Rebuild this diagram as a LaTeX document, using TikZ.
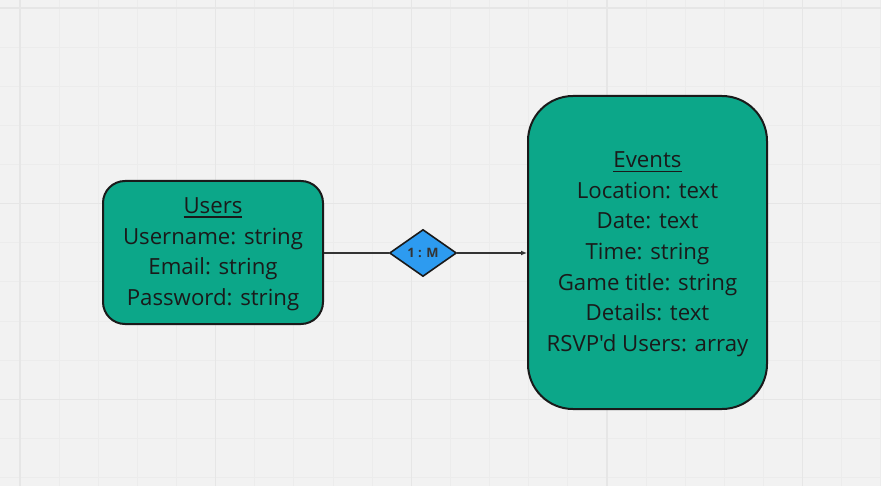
\documentclass[tikz,border=0pt]{standalone}
\usepackage{fontspec}
\setmainfont{Open Sans}[Ligatures=TeXOff]
\usetikzlibrary{shapes.geometric,arrows.meta}
\definecolor{bg}{HTML}{F2F2F2}
\definecolor{gridminor}{HTML}{ECECEC}
\definecolor{gridmajor}{HTML}{E6E6E6}
\definecolor{entfill}{HTML}{0CA789}
\definecolor{relfill}{HTML}{2D9BF0}
\definecolor{ink}{HTML}{1A1A1A}
\definecolor{linecol}{HTML}{333333}
\newcommand\myul[1]{\setbox0\hbox{#1}\leavevmode\rlap{\rule[-4.5bp]{\wd0}{1.8bp}}\box0}
\begin{document}
\begin{tikzpicture}[x=1bp,y=-1bp,
  entity/.style={draw=ink, line width=2bp, fill=entfill, rounded corners=#1,
    align=center, text=ink, font=\fontsize{22.3}{30.7}\selectfont, inner sep=0},
  relation/.style={diamond, draw=ink, line width=1.6bp, fill=relfill, inner sep=0,
    minimum width=67bp, minimum height=47bp, text=linecol,
    font=\fontsize{13}{14}\selectfont\bfseries},
  link/.style={draw=linecol, line width=1.5bp},
  gridmin/.style={draw=gridminor, line width=1bp},
  gridmaj/.style={draw=gridmajor, line width=1.4bp}]
\useasboundingbox (0,0) rectangle (881,486);
\fill[bg] (0,0) rectangle (881,486);
% grid
\foreach \k in {0,...,22} {\draw[gridmin] ({20+\k*39.13},0) -- ({20+\k*39.13},486);}
\foreach \k in {0,...,12} {\draw[gridmin] (0,{8+\k*39.13}) -- (881,{8+\k*39.13});}
\foreach \k in {0,...,4} {\draw[gridmaj] ({20+\k*195.65},0) -- ({20+\k*195.65},486);}
\foreach \k in {0,...,2} {\draw[gridmaj] (0,{8+\k*195.65}) -- (881,{8+\k*195.65});}
% entities
\node[entity=22bp, minimum width=220bp, minimum height=143bp] (users) at (213,252.5)
  {\rule{0pt}{19.5bp}\myul{Users}\\Username: string\\Email: string\\Password: string};
\node[entity=45bp, minimum width=239bp, minimum height=313bp] (events) at (647.5,252.5)
  {\rule{0pt}{19.5bp}\myul{Events}\\Location: text\\Date: text\\Time: string\\Game title: string\\Details: text\\RSVP'd Users: array};
\node[relation] (rel) at (423,253) {1 : M};
% connectors
\draw[link] (users.east |- rel.west) -- (rel.west);
\draw[link, -{Latex[length=6bp,width=5bp]}] (rel.east) -- (rel.east -| events.west);
\end{tikzpicture}
\end{document}
